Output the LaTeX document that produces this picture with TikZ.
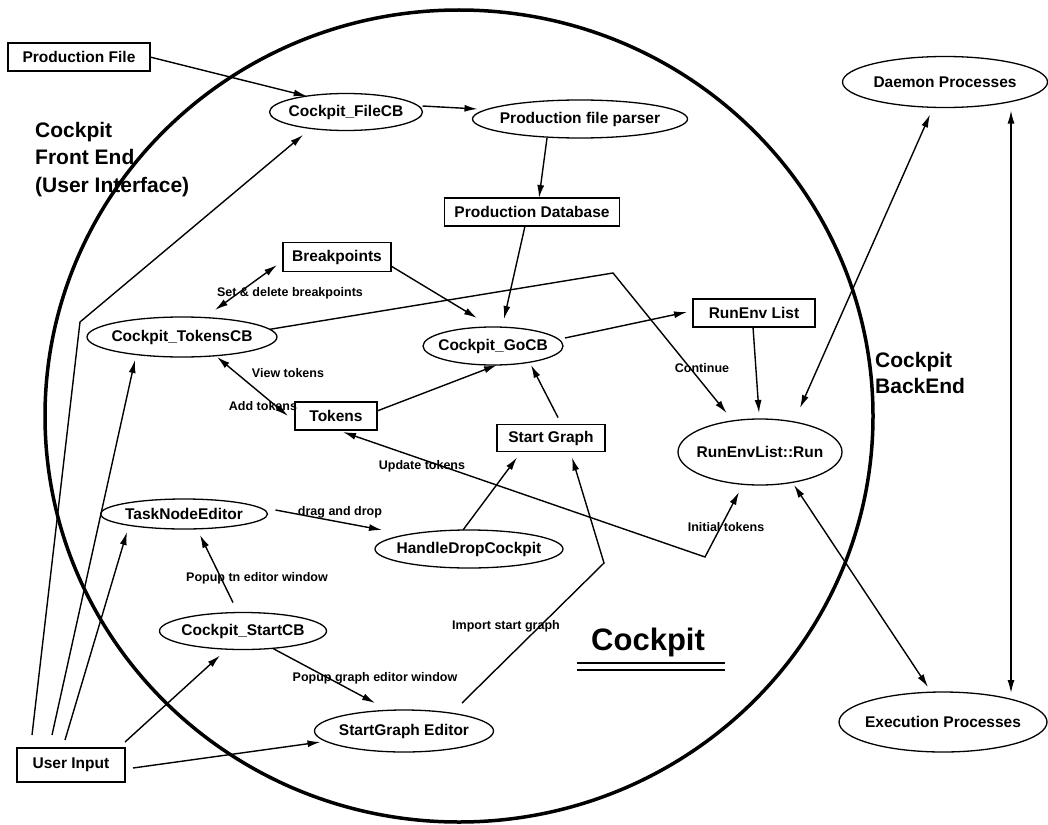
\documentclass[tikz,border=0pt]{standalone}
\usepackage{fontspec}
\setmainfont{Liberation Sans}
\usetikzlibrary{shapes.geometric,arrows.meta}
\newcommand\ndfont{\fontsize{15.5}{18}\selectfont\bfseries}
\newcommand\lbfont{\fontsize{12.5}{14}\selectfont\bfseries}
\newcommand\bgfont{\fontsize{21}{25}\selectfont\bfseries}
\newcommand\zw[1]{\makebox[0pt]{#1}}
\tikzset{
  box/.style={draw, line width=1.3pt, rectangle, inner sep=0pt, outer sep=0pt, font=\ndfont},
  ell/.style={draw, line width=1.3pt, ellipse, inner sep=0pt, outer sep=0pt, font=\ndfont},
  lab/.style={font=\lbfont, inner sep=0pt},
  big/.style={font=\bgfont, anchor=base west, inner sep=0pt},
  conn/.style={line width=1.4pt, -{Latex[length=13pt,width=7pt]}},
  dconn/.style={line width=1.4pt, {Latex[length=13pt,width=7pt]}-{Latex[length=13pt,width=7pt]}},
}
\begin{document}
\begin{tikzpicture}[x=1pt,y=-1pt]
\useasboundingbox (0,0) rectangle (1048,824);
% big circle
\draw[line width=3.5pt] (459,416) ellipse [x radius=414pt, y radius=406pt];

% nodes
\node[box, minimum width=142pt, minimum height=28pt] (pf) at (79,57) {Production File};
\node[ell, minimum width=153pt, minimum height=37pt] (filecb) at (346,112) {\zw{Cockpit\_FileCB}};
\node[ell, minimum width=215pt, minimum height=38pt] (parser) at (580,119) {\zw{Production file parser}};
\node[box, minimum width=175pt, minimum height=28pt] (pdb) at (532,212) {Production Database};
\node[box, minimum width=108pt, minimum height=29pt] (bp) at (337,257) {Breakpoints};
\node[ell, minimum width=190pt, minimum height=40pt] (tokcb) at (182,337) {\zw{Cockpit\_TokensCB}};
\node[ell, minimum width=140pt, minimum height=38pt] (gocb) at (493,346) {\zw{Cockpit\_GoCB}};
\node[box, minimum width=122pt, minimum height=28pt] (rel) at (754,313) {RunEnv List};
\node[box, minimum width=82pt, minimum height=28pt] (tok) at (336,416) {Tokens};
\node[box, minimum width=108pt, minimum height=27pt] (sg) at (551,438) {Start Graph};
\node[ell, minimum width=164pt, minimum height=66pt] (run) at (760,452) {\zw{RunEnvList::Run}};
\node[ell, minimum width=167pt, minimum height=30pt] (tne) at (184,514) {\zw{TaskNodeEditor}};
\node[ell, minimum width=188pt, minimum height=38pt] (hdc) at (469,549) {\zw{HandleDropCockpit}};
\node[ell, minimum width=167pt, minimum height=37pt] (scb) at (243,631) {\zw{Cockpit\_StartCB}};
\node[ell, minimum width=179pt, minimum height=42pt] (sge) at (404,731) {\zw{StartGraph Editor}};
\node[box, minimum width=108pt, minimum height=34pt] (ui) at (71,765) {User Input};
\node[ell, minimum width=205pt, minimum height=51pt] (dp) at (945,82) {\zw{Daemon Processes}};
\node[ell, minimum width=208pt, minimum height=60pt] (ep) at (943,722) {\zw{Execution Processes}};

% region labels
\node[big] (fe1) at (35,137) {Cockpit};
\node[big] (fe2) at (35,164) {Front End};
\node[big] (fe3) at (35,192) {(User Interface)};
\node[big] (be1) at (875,367) {Cockpit};
\node[big] (be2) at (875,393) {BackEnd};
\node[font=\fontsize{31}{36}\selectfont\bfseries, anchor=base west, inner sep=0pt] (ck) at (591,650) {Cockpit};
\draw[line width=2pt] (577,663) -- (725,663);
\draw[line width=2pt] (577,670) -- (725,670);

% connector labels
\node[lab] (l1) at (290,293) {Set \& delete breakpoints};
\node[lab] (l2) at (288,373) {View tokens};
\node[lab] (l3) at (263,406) {Add tokens};
\node[lab] (l4) at (702,368) {Continue};
\node[lab] (l5) at (422,466) {Update tokens};
\node[lab] (l6) at (340,512) {drag and drop};
\node[lab] (l7) at (726,527) {Initial tokens};
\node[lab] (l8) at (257,578) {Popup tn editor window};
\node[lab] (l9) at (375,678) {Popup graph editor window};
\node[lab] (l10) at (506,626) {Import start graph};

% bend points
\coordinate (c1) at (80,322);
\coordinate (c2) at (613,273);
\coordinate (c3) at (604,563);
\coordinate (c4) at (705,557);

% connectors
\draw[conn] (pf.east) -- (filecb.158);
\draw[conn, shorten >=10pt] ([xshift=15pt,yshift=13pt]ui.north west) -- (c1) -- (filecb.205);
\draw[conn] ([yshift=6pt]filecb.east) -- ([xshift=5pt,yshift=10pt]parser.west);
\draw[conn] ([xshift=-33pt]parser.south) -- ([xshift=7pt]pdb.north);
\draw[conn] ([xshift=-7pt]pdb.south) -- ([xshift=11pt,yshift=8pt]gocb.north);
\draw[conn] ([yshift=-9pt]bp.east) -- ([xshift=-16pt,yshift=9pt]gocb.north);
\draw[conn, shorten >=10pt] (tokcb.5) -- (c2) -- (run.131);
\draw[dconn] ([xshift=33pt,yshift=7pt]tokcb.north) -- ([xshift=-6pt,yshift=-8pt]bp.west);
\draw[dconn] ([xshift=35pt]tokcb.south) -- ([xshift=-7pt]tok.west);
\draw[conn] ([yshift=5pt]tok.east) -- ([xshift=4pt]gocb.south);
\draw[conn] ([xshift=2pt,yshift=8pt]gocb.east) -- ([xshift=-6pt,yshift=1pt]rel.west);
\draw[conn] ([xshift=-1pt]rel.south) -- ([xshift=-1pt,yshift=6pt]run.north);
\draw[conn] ([xshift=7pt,yshift=7pt]sg.north) -- ([xshift=38pt]gocb.south);
\draw[conn] ([xshift=-6pt]hdc.north) -- ([xshift=-34pt,yshift=-6pt]sg.south);
\draw[conn] ([xshift=58pt,yshift=7pt]sge.north) -- (c3) -- ([xshift=21pt,yshift=-6pt]sg.south);
\draw[dconn] ([xshift=7pt,yshift=-2pt]tok.south) -- (c4) -- ([xshift=-21pt,yshift=-7pt]run.south);
\draw[conn] ([xshift=8pt,yshift=4pt]tne.east) -- ([xshift=7pt,yshift=19pt]hdc.west);
\draw[conn] ([xshift=-10pt,yshift=10pt]scb.north) -- ([xshift=16pt,yshift=-6pt]tne.south);
\draw[conn] ([xshift=30pt,yshift=1pt]scb.south) -- ([xshift=-29pt,yshift=7pt]sge.north);
\draw[conn] ([yshift=6pt]ui.north east) -- ([xshift=-23pt,yshift=-6pt]scb.south);
\draw[conn] ([xshift=8pt,yshift=-3pt]ui.east) -- ([xshift=6pt,yshift=-11pt]sge.west);
\draw[conn] ([xshift=35pt,yshift=13pt]ui.north west) -- ([xshift=-47pt,yshift=-3pt]tokcb.south);
\draw[conn] ([xshift=48pt,yshift=8pt]ui.north west) -- ([xshift=-57pt,yshift=-3pt]tne.south);
\draw[dconn] ([xshift=40pt,yshift=11pt]run.north) -- ([xshift=-15pt,yshift=-7pt]dp.south);
\draw[dconn] ([xshift=34pt]run.south) -- ([xshift=-15pt,yshift=5pt]ep.north);
\draw[dconn] ([xshift=66pt,yshift=-3pt]dp.south) -- ([xshift=68pt,yshift=-1pt]ep.north);
\end{tikzpicture}
\end{document}
